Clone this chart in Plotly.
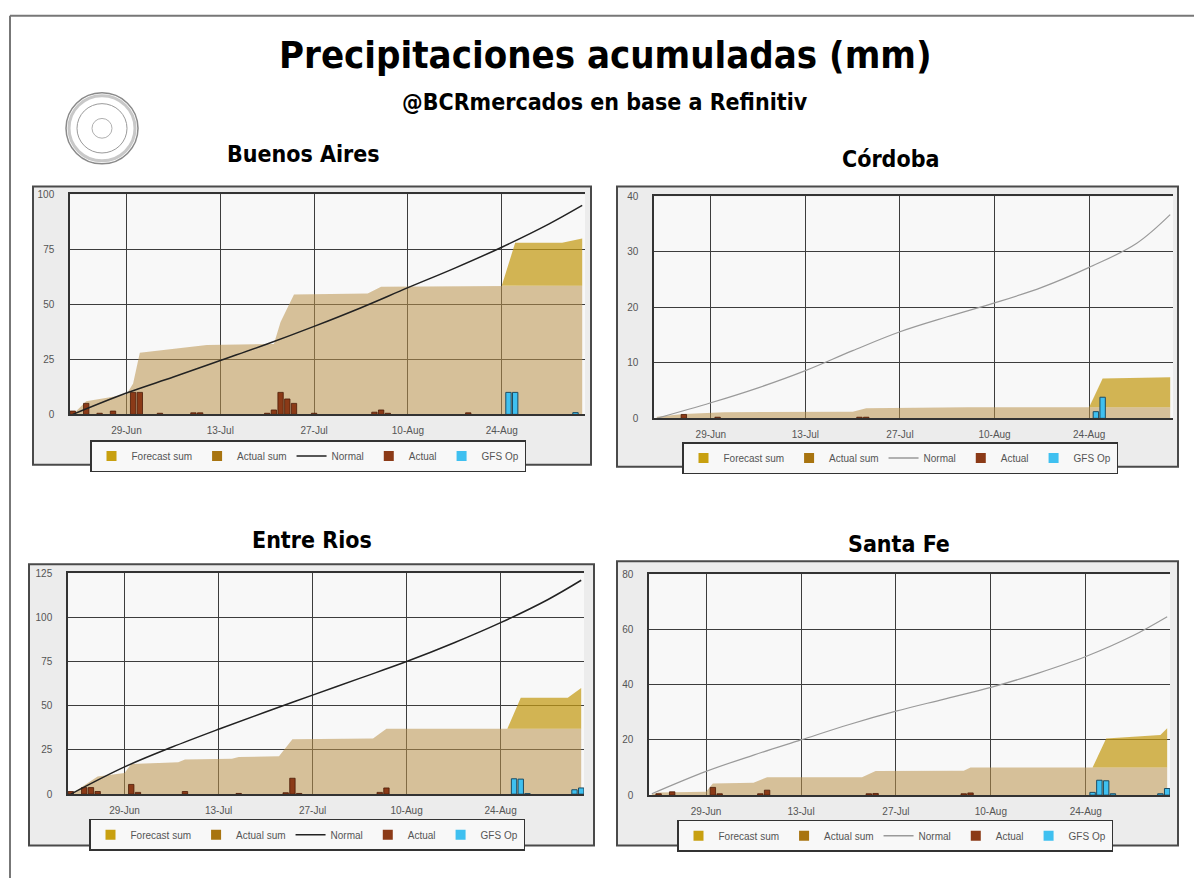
import plotly.graph_objects as go

W, H = 1194, 884

# ---------------- data ----------------
tick_dates = ['2020-06-29', '2020-07-13', '2020-07-27', '2020-08-10', '2020-08-24']
tick_labels = ['29-Jun', '13-Jul', '27-Jul', '10-Aug', '24-Aug']
legend_names = ['Forecast sum', 'Actual sum', 'Normal', 'Actual', 'GFS Op']

normal_dates = ['2020-06-21', '2020-06-29', '2020-07-06', '2020-07-13', '2020-07-20', '2020-07-27',
                '2020-08-03', '2020-08-10', '2020-08-17', '2020-08-24', '2020-08-31', '2020-09-05']

# Buenos Aires
ba_normal = [0, 9.7, 17, 24.5, 32, 40, 48.5, 57.6, 66.5, 76, 86.5, 95]
ba_sum_dates = ['2020-06-21', '2020-06-23', '2020-06-29', '2020-06-30', '2020-07-01', '2020-07-05',
                '2020-07-11', '2020-07-21', '2020-07-22', '2020-07-24', '2020-08-04', '2020-08-06',
                '2020-08-24', '2020-09-05']
ba_sum = [0, 6, 9, 14, 28, 29.5, 31.5, 32, 42, 54.5, 55, 58, 58.5, 58.5]
ba_fc_dates = ['2020-08-24', '2020-08-26', '2020-09-02', '2020-09-05']
ba_fc = [58.5, 78, 78, 80]
ba_act_dates = ['2020-06-21', '2020-06-23', '2020-06-25', '2020-06-27', '2020-06-30', '2020-07-01',
                '2020-07-04', '2020-07-09', '2020-07-10', '2020-07-20', '2020-07-21', '2020-07-22',
                '2020-07-23', '2020-07-24', '2020-07-27', '2020-08-05', '2020-08-06', '2020-08-07',
                '2020-08-19']
ba_act = [1.5, 5, 0.5, 1.5, 10, 10, 0.5, 0.7, 0.7, 0.5, 2, 10, 7, 5, 0.5, 1, 2, 0.5, 0.7]
ba_gfs_dates = ['2020-08-25', '2020-08-26', '2020-09-04']
ba_gfs = [10, 10, 0.8]

# Córdoba
co_normal = [0, 2.8, 5.5, 8.6, 12.2, 15.6, 18.3, 20.8, 23.6, 27.2, 31.5, 36.7]
co_sum_dates = ['2020-06-21', '2020-06-25', '2020-07-01', '2020-07-20', '2020-07-22', '2020-08-06',
                '2020-08-24', '2020-09-05']
co_sum = [0.3, 0.8, 1.1, 1.2, 1.8, 2.0, 2.0, 2.0]
co_fc_dates = ['2020-08-24', '2020-08-26', '2020-09-05']
co_fc = [2.0, 7.2, 7.4]
co_act_dates = ['2020-06-25', '2020-06-30', '2020-07-21', '2020-07-22']
co_act = [0.7, 0.2, 0.2, 0.2]
co_gfs_dates = ['2020-08-25', '2020-08-26']
co_gfs = [1.2, 3.8]

# Entre Rios
er_normal = [0, 15.4, 26.5, 36.7, 46.5, 56, 65.5, 75, 85.5, 97, 110, 121]
er_sum_dates = ['2020-06-21', '2020-06-23', '2020-06-25', '2020-06-29', '2020-06-30', '2020-07-07',
                '2020-07-08', '2020-07-15', '2020-07-16', '2020-07-22', '2020-07-24', '2020-08-05',
                '2020-08-07', '2020-09-05']
er_sum = [0, 5, 10, 12, 17, 18, 19.6, 20, 21, 21.5, 31, 31.5, 37, 37]
er_fc_dates = ['2020-08-25', '2020-08-27', '2020-09-03', '2020-09-05']
er_fc = [37, 54.5, 54.5, 60]
er_act_dates = ['2020-06-21', '2020-06-23', '2020-06-24', '2020-06-25', '2020-06-30', '2020-07-01',
                '2020-07-08', '2020-07-16', '2020-07-23', '2020-07-24', '2020-07-25', '2020-08-06',
                '2020-08-07']
er_act = [1.5, 3.7, 3.7, 1.5, 5.5, 1, 1.5, 0.4, 0.8, 9, 0.4, 1, 3.5]
er_gfs_dates = ['2020-08-26', '2020-08-27', '2020-08-28', '2020-09-04', '2020-09-05']
er_gfs = [8.7, 8.5, 0.3, 2.5, 3.5]

# Santa Fe
sf_normal = [0.5, 8.6, 14.5, 20, 25.5, 30.4, 34.7, 39, 44.2, 50.2, 57.8, 64.6]
sf_sum_dates = ['2020-06-21', '2020-06-22', '2020-06-29', '2020-06-30', '2020-07-06', '2020-07-08',
                '2020-07-22', '2020-07-24', '2020-08-06', '2020-08-07', '2020-09-05']
sf_sum = [0.3, 1, 1.2, 4.2, 4.5, 6.5, 6.5, 8.7, 8.8, 10, 10]
sf_fc_dates = ['2020-08-25', '2020-08-27', '2020-09-04', '2020-09-05']
sf_fc = [10, 20.5, 21.8, 24.2]
sf_act_dates = ['2020-06-22', '2020-06-24', '2020-06-30', '2020-07-01', '2020-07-07', '2020-07-08',
                '2020-07-23', '2020-07-24', '2020-08-06', '2020-08-07']
sf_act = [0.5, 1.2, 2.8, 0.5, 0.5, 1.8, 0.5, 0.6, 0.5, 0.8]
sf_gfs_dates = ['2020-08-25', '2020-08-26', '2020-08-27', '2020-08-28', '2020-09-04', '2020-09-05']
sf_gfs = [1, 5.4, 5.2, 0.5, 0.5, 2.4]

panels = [
    dict(title='Buenos Aires', normal=ba_normal, sum_dates=ba_sum_dates, sums=ba_sum,
         fc_dates=ba_fc_dates, fc=ba_fc, act_dates=ba_act_dates, act=ba_act,
         gfs_dates=ba_gfs_dates, gfs=ba_gfs, yticks=[0, 25, 50, 75, 100]),
    dict(title='Córdoba', normal=co_normal, sum_dates=co_sum_dates, sums=co_sum,
         fc_dates=co_fc_dates, fc=co_fc, act_dates=co_act_dates, act=co_act,
         gfs_dates=co_gfs_dates, gfs=co_gfs, yticks=[0, 10, 20, 30, 40]),
    dict(title='Entre Rios', normal=er_normal, sum_dates=er_sum_dates, sums=er_sum,
         fc_dates=er_fc_dates, fc=er_fc, act_dates=er_act_dates, act=er_act,
         gfs_dates=er_gfs_dates, gfs=er_gfs, yticks=[0, 25, 50, 75, 100, 125]),
    dict(title='Santa Fe', normal=sf_normal, sum_dates=sf_sum_dates, sums=sf_sum,
         fc_dates=sf_fc_dates, fc=sf_fc, act_dates=sf_act_dates, act=sf_act,
         gfs_dates=sf_gfs_dates, gfs=sf_gfs, yticks=[0, 20, 40, 60, 80]),
]

# ---------------- layout geometry (pixels) ----------------
geo = [
    dict(box=(33, 183, 591, 465), plot=(70, 191, 585, 414), title=(303, 150), legend=(308, 440), normal_color='#222', normal_w=1.5),
    dict(box=(617, 183, 1178, 467), plot=(654, 193, 1173, 418), title=(890, 155), legend=(900, 442), normal_color='#9a9a9a', normal_w=1.2),
    dict(box=(29, 566, 594, 851), plot=(68, 575, 584, 799), title=(312, 541), legend=(307, 824), normal_color='#222', normal_w=1.5),
    dict(box=(617, 563, 1178, 851), plot=(649, 576, 1170, 800), title=(899, 545), legend=(895, 825), normal_color='#9a9a9a', normal_w=1.2),
]

def px(x):
    return x / W

def py(y):
    return 1 - y / H

SUM_FILL = 'rgba(185,145,75,0.55)'
FC_FILL = 'rgba(196,154,20,0.72)'
ACT_COLOR = '#8b3a17'
GFS_COLOR = '#3fc0f0'
LEG_SUM = '#a87410'
LEG_FC = '#c8a010'
GRID = '#3d3d3d'
TICKFONT = dict(family='Liberation Sans, Arial, sans-serif', size=10, color='#555')
TITLEFONT = 'Liberation Sans Narrow, DejaVu Sans Condensed, Roboto, sans-serif'
DAY_MS = 86400000
XRANGE = ['2020-06-20 14:00', '2020-09-05 10:00']

fig = go.Figure()
shapes = []
annotations = []
layout_axes = {}

for i, (p, g) in enumerate(zip(panels, geo)):
    k = i + 1
    xa = 'x' if k == 1 else f'x{k}'
    ya = 'y' if k == 1 else f'y{k}'
    yo = f'y{k + 4}'
    leg = 'legend' if k == 1 else f'legend{k}'

    # actual sum area
    fig.add_trace(go.Scatter(x=p['sum_dates'], y=p['sums'], mode='lines', line=dict(width=0),
                             fill='tozeroy', fillcolor=SUM_FILL, showlegend=False,
                             hoverinfo='skip', xaxis=xa, yaxis=ya))
    # forecast base (hidden) at last actual sum level
    base = [p['sums'][-1]] * len(p['fc_dates'])
    fig.add_trace(go.Scatter(x=p['fc_dates'], y=base, mode='lines', line=dict(width=0),
                             showlegend=False, hoverinfo='skip', xaxis=xa, yaxis=ya))
    fig.add_trace(go.Scatter(x=p['fc_dates'], y=p['fc'], mode='lines', line=dict(width=0),
                             fill='tonexty', fillcolor=FC_FILL, showlegend=False,
                             hoverinfo='skip', xaxis=xa, yaxis=ya))
    # bars (on overlay axis so they sit above the filled areas)
    fig.add_trace(go.Bar(x=p['act_dates'], y=p['act'], width=0.8 * DAY_MS,
                         marker=dict(color=ACT_COLOR, line=dict(color='#4a1a06', width=0.8)),
                         showlegend=False, xaxis=xa, yaxis=yo))
    fig.add_trace(go.Bar(x=p['gfs_dates'], y=p['gfs'], width=0.8 * DAY_MS,
                         marker=dict(color=GFS_COLOR, line=dict(color='#1d4c63', width=1)),
                         showlegend=False, xaxis=xa, yaxis=yo))
    # normal
    fig.add_trace(go.Scatter(x=normal_dates, y=p['normal'], mode='lines',
                             line=dict(color=g['normal_color'], width=g['normal_w'], shape='spline', smoothing=1.0),
                             showlegend=False, xaxis=xa, yaxis=yo))
    # legend entries
    leg_colors = [LEG_FC, LEG_SUM, g['normal_color'], ACT_COLOR, GFS_COLOR]
    for j, (nm, col) in enumerate(zip(legend_names, leg_colors)):
        if nm == 'Normal':
            fig.add_trace(go.Scatter(x=[None], y=[None], mode='lines', name=nm,
                                     line=dict(color=col, width=1.5), legend=leg,
                                     xaxis=xa, yaxis=ya))
        else:
            fig.add_trace(go.Scatter(x=[None], y=[None], mode='markers', name=nm,
                                     marker=dict(symbol='square', size=10, color=col),
                                     legend=leg, xaxis=xa, yaxis=ya))

    bx0, by0, bx1, by1 = g['box']
    shapes.append(dict(type='rect', xref='paper', yref='paper', x0=px(bx0), x1=px(bx1),
                       y0=py(by1), y1=py(by0), fillcolor='#ececec',
                       line=dict(color='#4a4a4a', width=2), layer='below'))
    x0, y0, x1, y1 = g['plot']
    shapes.append(dict(type='rect', xref='paper', yref='paper', x0=px(x0), x1=px(x1),
                       y0=py(y1), y1=py(y0), fillcolor='#f8f8f8',
                       line=dict(width=0), layer='below'))
    yr = [0, p['yticks'][-1]]
    layout_axes['xaxis' if k == 1 else f'xaxis{k}'] = dict(
        type='date', domain=[px(x0), px(x1)], range=XRANGE, anchor=ya,
        tickvals=tick_dates, ticktext=tick_labels, ticks='', ticklabelstandoff=6,
        tickfont=TICKFONT, showgrid=True, gridcolor=GRID, gridwidth=1.4,
        showline=True, linecolor='#333', linewidth=1.5, mirror=True, zeroline=False)
    layout_axes['yaxis' if k == 1 else f'yaxis{k}'] = dict(
        domain=[py(y1), py(y0)], range=yr, anchor=xa,
        tickvals=p['yticks'], ticks='', ticklabelstandoff=12, tickfont=TICKFONT,
        showgrid=True, gridcolor=GRID, gridwidth=1.4, zeroline=False,
        showline=True, linecolor='#333', linewidth=1.5)
    layout_axes[f'yaxis{k + 4}'] = dict(overlaying=ya, range=yr, anchor=xa, visible=False,
                                        showgrid=False, zeroline=False)
    lx, ly = g['legend']
    layout_axes[leg] = dict(orientation='h', x=px(lx), y=py(ly), xanchor='center', yanchor='top',
                            bgcolor='#f8f8f8', bordercolor='#333', borderwidth=1.5,
                            traceorder='normal',
                            font=dict(family='Liberation Sans, Arial, sans-serif', size=10, color='#555'),
                            itemwidth=30, tracegroupgap=0)
    tx, ty = g['title']
    annotations.append(dict(text=f"<b>{p['title']}</b>", x=px(tx), y=py(ty), xref='paper', yref='paper',
                            showarrow=False, xanchor='center', yanchor='middle',
                            font=dict(family=TITLEFONT, size=23, color='#000')))

# page frame
shapes.append(dict(type='line', xref='paper', yref='paper', x0=px(10), x1=px(10), y0=0, y1=py(10),
                   line=dict(color='#777', width=2)))
shapes.append(dict(type='line', xref='paper', yref='paper', x0=px(10), x1=1, y0=py(10), y1=py(10),
                   line=dict(color='#777', width=2)))
# logo seal
for r, w, c in [(36, 1.5, '#8a8a8a'), (33, 3, '#c8c8c8'), (25, 1, '#9a9a9a'), (10, 1, '#b0b0b0')]:
    shapes.append(dict(type='circle', xref='paper', yref='paper', x0=px(102 - r), x1=px(102 + r),
                       y0=py(124 + r), y1=py(124 - r), line=dict(color=c, width=w)))

annotations.append(dict(text='<b>Precipitaciones acumuladas (mm)</b>', x=px(605), y=py(50),
                        xref='paper', yref='paper', showarrow=False, xanchor='center', yanchor='middle',
                        font=dict(family=TITLEFONT, size=38, color='#000')))
annotations.append(dict(text='<b>@BCRmercados en base a Refinitiv</b>', x=px(605), y=py(97),
                        xref='paper', yref='paper', showarrow=False, xanchor='center', yanchor='middle',
                        font=dict(family=TITLEFONT, size=23, color='#000')))

fig.update_layout(width=W, height=H, margin=dict(l=0, r=0, t=0, b=0),
                  paper_bgcolor='white', plot_bgcolor='rgba(0,0,0,0)', barmode='overlay',
                  shapes=shapes, annotations=annotations, hovermode=False, **layout_axes)

fig.write_html('out.html', config={'displayModeBar': False},
               post_script="document.body.style.margin='0px';")
